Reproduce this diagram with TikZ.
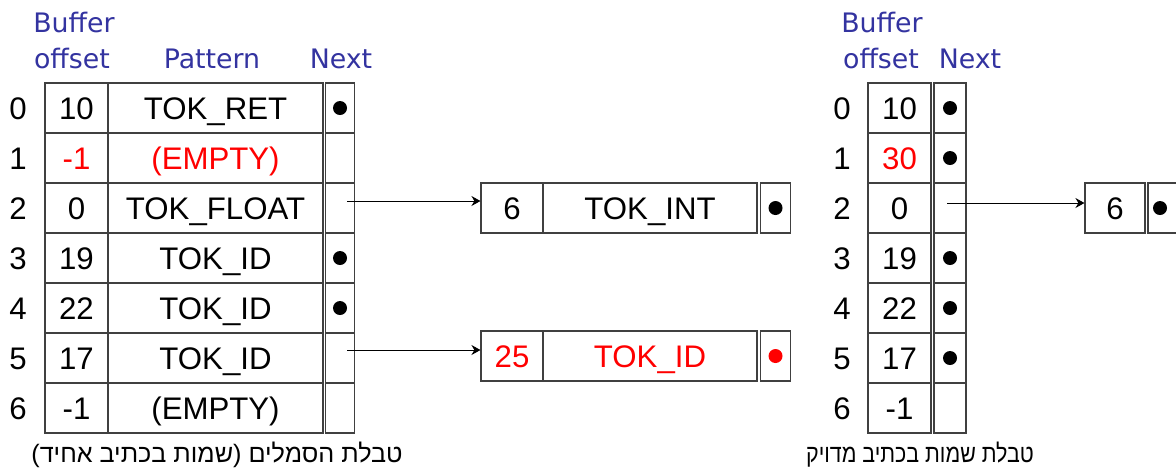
\documentclass[tikz,border=0pt]{standalone}
\usepackage{fontspec}
\setmainfont{Liberation Sans}
\newfontfamily\headfont{DejaVu Sans}
\newfontfamily\hebfont[Script=Hebrew]{Liberation Sans}
\newfontfamily\hebnarrow[Script=Hebrew,FakeStretch=0.85]{Liberation Sans}
\TeXXeTstate=1
\usetikzlibrary{arrows.meta}
\definecolor{hdrblue}{RGB}{51,51,160}

\begin{document}
\begin{tikzpicture}[
  x=0.5pt, y=-0.5pt,
  every node/.style={font=\fontsize{15.6}{18}\selectfont, inner sep=0pt},
  cell/.style={draw=black!75, line width=0.55pt, minimum height=25pt,
    text height=11.1pt, text depth=0pt},
  offcell/.style={cell, minimum width=31.5pt},
  patcell/.style={cell, minimum width=107.5pt},
  nextcell/.style={cell, minimum width=14.25pt},
  dot/.style={circle, fill=black, minimum size=7pt},
  idx/.style={text height=11.1pt, text depth=0pt},
  head/.style={anchor=base, text=hdrblue, font=\headfont\fontsize{13.4}{15}\selectfont},
  caption/.style={anchor=base, font=\hebfont\fontsize{12.6}{14}\selectfont},
  link/.style={line width=0.5pt, -{Stealth[length=4.5pt,width=5pt]}}
]
\useasboundingbox (0,0) rectangle (1176,473);

% ------------------------------------------------------------
% Left table: symbol table, one entry per pattern
% ------------------------------------------------------------
\node[head] (lhb) at (74,32) {Buffer};
\node[head] (lho) at (72,68) {offset};
\node[head] (lhp) at (212,68) {Pattern};
\node[head] (lhn) at (341,68) {Next};

\foreach \r/\o/\p/\c in {0/10/TOK\_RET/black, 1/-1/{(EMPTY)}/red,
    2/0/TOK\_FLOAT/black, 3/19/TOK\_ID/black, 4/22/TOK\_ID/black,
    5/17/TOK\_ID/black, 6/-1/{(EMPTY)}/black}{
  \node[idx] (li\r) at (18,{108+50*\r}) {\r};
  \node[offcell, text=\c] (lo\r) at (76.5,{108+50*\r}) {\o};
  \node[patcell, text=\c] (lp\r) at (215.5,{108+50*\r}) {\p};
  \node[nextcell] (ln\r) at (340,{108+50*\r}) {};
}
\foreach \r in {0,3,4}
  \node[dot] (ld\r) at (ln\r) {};

\node[caption] (lcap) at (217,462) {\beginR טבלת הסמלים (שמות בכתיב אחיד)\endR};

% ------------------------------------------------------------
% Chained entries hanging off rows 2 and 5
% ------------------------------------------------------------
\node[offcell, minimum width=31pt] (b1o) at (512,208) {6};
\node[patcell, minimum width=107pt] (b1p) at (650,208) {TOK\_INT};
\node[nextcell, minimum width=15pt] (b1n) at (775.5,208) {};
\node[dot] (b1d) at (b1n) {};

\node[offcell, minimum width=31pt, text=red] (b2o) at (512,356) {25};
\node[patcell, minimum width=107pt, text=red] (b2p) at (650,356) {TOK\_ID};
\node[nextcell, minimum width=15pt] (b2n) at (775.5,356) {};
\node[dot, fill=red] (b2d) at (b2n) {};

\coordinate (s2) at ([shift={(7,-7)}]ln2.center);
\coordinate (s5) at ([shift={(7,-8)}]ln5.center);
\draw[link] (s2) -- (s2 -| b1o.west);
\draw[link] (s5) -- (s5 -| b2o.west);

% ------------------------------------------------------------
% Right table: exact-spelling names, offsets only
% ------------------------------------------------------------
\node[head] (rhb) at (882,32) {Buffer};
\node[head] (rho) at (881,68) {offset};
\node[head] (rhn) at (970,68) {Next};

\foreach \r/\o/\c in {0/10/black, 1/30/red, 2/0/black, 3/19/black,
    4/22/black, 5/17/black, 6/-1/black}{
  \node[idx] (ri\r) at (842,{108+50*\r}) {\r};
  \node[offcell, text=\c] (ro\r) at (899.5,{108+50*\r}) {\o};
  \node[nextcell, minimum width=16pt] (rn\r) at (950,{108+50*\r}) {};
}
\foreach \r in {0,1,3,4,5}
  \node[dot] (rd\r) at (rn\r) {};

\node[caption, font=\hebnarrow\fontsize{12.6}{14}\selectfont] (rcap) at (920,462)
  {\beginR טבלת שמות בכתיב מדויק\endR};

% chained entry for row 2 (runs off the right edge)
\node[offcell, minimum width=30pt] (b3o) at (1115,208) {6};
\node[nextcell, minimum width=15pt] (b3n) at (1163,208) {};
\node[dot] (b3d) at (1160,208) {};

\coordinate (s3) at ([shift={(-3,-5)}]rn2.center);
\draw[link] (s3) -- (s3 -| b3o.west);

\end{tikzpicture}
\end{document}
